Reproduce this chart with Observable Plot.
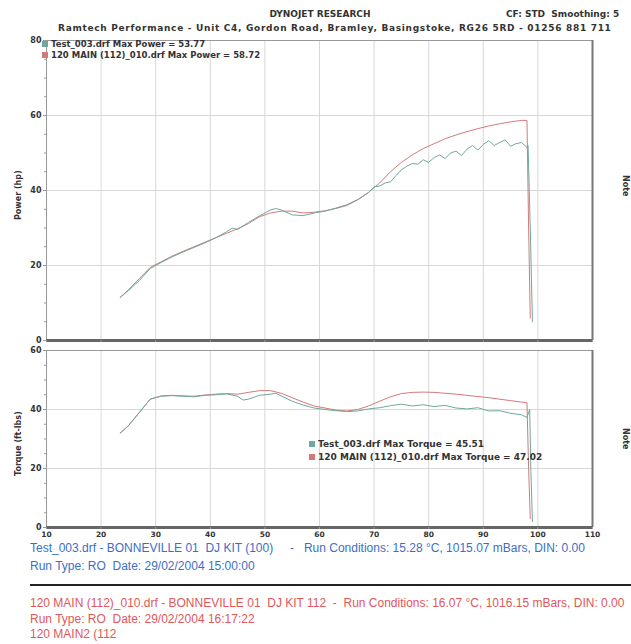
<!DOCTYPE html>
<html><head><meta charset="utf-8">
<script src="https://cdn.jsdelivr.net/npm/d3@7"></script>
<script src="https://cdn.jsdelivr.net/npm/@observablehq/plot@0.6"></script>
<style>
body{margin:0;background:#fff;font-family:"Liberation Sans",Arial,sans-serif;}
#wrap{position:relative;width:631px;height:644px;overflow:hidden;background:#fff;}
.t{position:absolute;white-space:nowrap;line-height:1;}
.dj{font-family:"DejaVu Sans",sans-serif;font-weight:bold;color:#333;}
.hdr{font-size:9px;}
.leg{font-size:8.5px;}
.sw{display:inline-block;width:6px;height:6px;margin-right:3px;vertical-align:0px;}
.blue{font-size:12px;color:#3b6fc6;}
.red{font-size:12px;color:#e0585a;}
.vlab{font-size:8px;transform-origin:left top;transform:rotate(-90deg);}
.rlab{font-size:8px;transform-origin:left top;transform:rotate(90deg);}
#p1,#p2{position:absolute;left:0;}
</style></head>
<body><div id="wrap">
<div class="t dj hdr" style="left:320px;top:10px;transform:translateX(-50%);">DYNOJET RESEARCH</div>
<div class="t dj hdr" style="left:506px;top:10px;">CF: STD&nbsp; Smoothing: 5</div>
<div class="t dj hdr" style="left:58px;top:24px;letter-spacing:0.7px;">Ramtech Performance - Unit C4, Gordon Road, Bramley, Basingstoke, RG26 5RD - 01256 881 711</div>
<div id="p1" style="top:30px;"></div>
<div id="p2" style="top:340px;"></div>
<div class="t dj leg" style="left:42px;top:40px;"><span class="sw" style="background:#6fa89c"></span>Test_003.drf Max Power = 53.77</div>
<div class="t dj leg" style="left:42px;top:51px;"><span class="sw" style="background:#d27a7a"></span>120 MAIN (112)_010.drf Max Power = 58.72</div>
<div class="t dj leg" style="left:309px;top:440px;font-size:9px;"><span class="sw" style="background:#6fa89c"></span>Test_003.drf Max Torque = 45.51</div>
<div class="t dj leg" style="left:309px;top:453px;font-size:9px;"><span class="sw" style="background:#d27a7a"></span>120 MAIN (112)_010.drf Max Torque = 47.02</div>
<div class="t dj vlab" style="left:15px;top:220px;">Power (hp)</div>
<div class="t dj vlab" style="left:15px;top:476px;">Torque (ft-lbs)</div>
<div class="t dj rlab" style="left:629px;top:175px;">Note</div>
<div class="t dj rlab" style="left:629px;top:428px;">Note</div>
<div class="t blue" style="left:30px;top:542px;">Test_003.drf - BONNEVILLE 01&nbsp; DJ KIT (100)&nbsp;&nbsp;&nbsp;&nbsp; - &nbsp;&nbsp;Run Conditions: 15.28 °C, 1015.07 mBars, DIN: 0.00</div>
<div class="t blue" style="left:30px;top:560px;">Run Type: RO&nbsp; Date: 29/02/2004 15:00:00</div>
<div style="position:absolute;left:30px;top:584px;width:601px;height:2px;background:#222;"></div>
<div class="t red" style="left:30px;top:597px;">120 MAIN (112)_010.drf - BONNEVILLE 01&nbsp; DJ KIT 112&nbsp; - &nbsp;Run Conditions: 16.07 °C, 1016.15 mBars, DIN: 0.00</div>
<div class="t red" style="left:30px;top:613px;">Run Type: RO&nbsp; Date: 29/02/2004 16:17:22</div>
<div class="t red" style="left:30px;top:628px;">120 MAIN2 (112</div>
</div>
<script>
const xTicks = [10,20,30,40,50,60,70,80,90,100,110];
const powerTicks = [0,20,40,60,80];
const torqueTicks = [0,20,40,60];

// Test_003 (blue/teal) power
const bluePowerRpm = [23.5,25,27,29,31,33,35,37,39,41,43,44,45,47,49,51,52,53,55,57,59,61,63,65,67,69,70,71,72,73,74,75,76,77,78,79,80,81,82,83,84,85,86,87,88,89,90,91,92,93,94,95,96,97,98,98.2,98.6,99];
const bluePower = [11.5,13.3,16,19.2,20.8,22.3,23.6,24.8,26,27.4,29,30,29.6,31.5,33.2,34.8,35.2,34.8,33.5,33.3,34,34.5,35.3,36.2,37.6,39.5,41,41.2,42,42.3,44,45.5,46.5,47.2,47,48.2,47.5,48.8,49.5,48.5,50,50.5,49.3,51,52,50.8,52.3,53.3,52,52.8,53.5,51.8,52.5,52.8,51.5,52,30,5];

// 120 MAIN (red) power
const redPowerRpm = [23.5,25,27,29,31,33,35,37,39,41,43,45,47,49,51,53,55,57,59,61,63,65,67,69,71,73,75,77,79,81,83,85,87,89,91,93,95,97,98,98.3,98.6];
const redPower = [11.5,13.5,16.5,19.5,21,22.5,23.8,25,26.2,27.4,28.6,29.8,31.2,33,34,34.5,34.5,34,34.2,34.6,35.2,36,37.5,39.5,42,45,47.5,49.5,51.2,52.5,53.8,54.8,55.7,56.5,57.2,57.8,58.3,58.7,58.7,30,6];

// torque
const blueTorqueRpm = [23.5,25,27,29,31,33,35,37,39,41,43,45,46,47,49,51,52,53,55,57,59,61,63,65,67,69,71,73,75,77,79,81,83,85,87,89,91,93,95,97,98,98.5,98.7,99];
const blueTorque = [32,34.5,39,43.5,44.5,44.7,44.5,44.3,44.8,45,45.3,44.5,43.2,43.5,44.8,45.2,45.5,44.6,42.8,41.5,40.5,40,39.6,39.3,39.5,40.2,40.6,41.3,41.8,41.2,41.6,41,41.4,40.5,40.2,40.6,39.5,39.6,38.7,38.2,37.3,40,20,2];
const redTorqueRpm = [23.5,25,27,29,31,33,35,37,39,41,43,45,47,49,51,53,55,57,59,61,63,65,67,69,71,73,75,77,79,81,83,85,87,89,91,93,95,97,98,98.3,98.6];
const redTorque = [32,34.5,39,43.5,44.6,44.8,44.6,44.5,44.9,45.2,45.4,45.2,45.8,46.4,46.4,45.5,44,42.5,41.2,40.5,39.8,39.5,40,41.2,42.8,44.3,45.4,45.8,45.9,45.8,45.5,45.2,44.8,44.4,44,43.5,43,42.5,42.3,20,3];

const BLUE = "#6fa89c", RED = "#d27a7a";
const zip = (xs, ys) => xs.map((x, i) => ({x, y: ys[i]}));

function panel(opts) {
  const {height, mt, mb, ydom, yticks, minor, series, xlabels} = opts;
  return Plot.plot({
    width: 631, height, marginTop: mt, marginBottom: mb, marginLeft: 46, marginRight: 39,
    style: {fontFamily: "DejaVu Sans, sans-serif", background: "transparent", overflow: "visible"},
    x: {domain: [10, 110], label: null},
    y: {domain: ydom, label: null},
    marks: [
      Plot.gridX(xTicks.slice(1, -1), {stroke: "#d8d8d8", strokeOpacity: 1}),
      Plot.gridY(yticks.slice(1, -1), {stroke: "#d8d8d8", strokeOpacity: 1}),
      Plot.ruleY([ydom[1]], {stroke: "#999", strokeWidth: 1}),
      Plot.ruleX([10], {stroke: "#999", strokeWidth: 1}),
      ...series.map(s => Plot.line(s.data, {x: "x", y: "y", stroke: s.color, strokeWidth: 1})),
      Plot.ruleY([ydom[0]], {stroke: "#666", strokeWidth: 3}),
      Plot.ruleX([110], {stroke: "#777", strokeWidth: 2}),
      Plot.axisY(minor, {tickSize: 2, text: null, stroke: "#999", label: null}),
      Plot.axisY(yticks, {tickSize: 3, tickPadding: 2, fontSize: 8, fontWeight: "bold", fill: "#333", stroke: "#999", label: null}),
      xlabels
        ? Plot.axisX(xTicks, {tickSize: 2, tickPadding: 2, fontSize: 7.5, fontWeight: "bold", fill: "#333", stroke: "#999", label: null})
        : Plot.axisX(xTicks, {tickSize: 2, text: null, stroke: "#999", label: null})
    ]
  });
}

document.getElementById("p1").append(panel({
  height: 318, mt: 10, mb: 8, ydom: [0, 80], yticks: powerTicks,
  minor: d3.range(0, 81, 5),
  series: [{data: zip(redPowerRpm, redPower), color: RED}, {data: zip(bluePowerRpm, bluePower), color: BLUE}],
  xlabels: false
}));
document.getElementById("p2").append(panel({
  height: 210, mt: 10, mb: 23, ydom: [0, 60], yticks: torqueTicks,
  minor: d3.range(0, 61, 5),
  series: [{data: zip(redTorqueRpm, redTorque), color: RED}, {data: zip(blueTorqueRpm, blueTorque), color: BLUE}],
  xlabels: true
}));
</script>
</body></html>
